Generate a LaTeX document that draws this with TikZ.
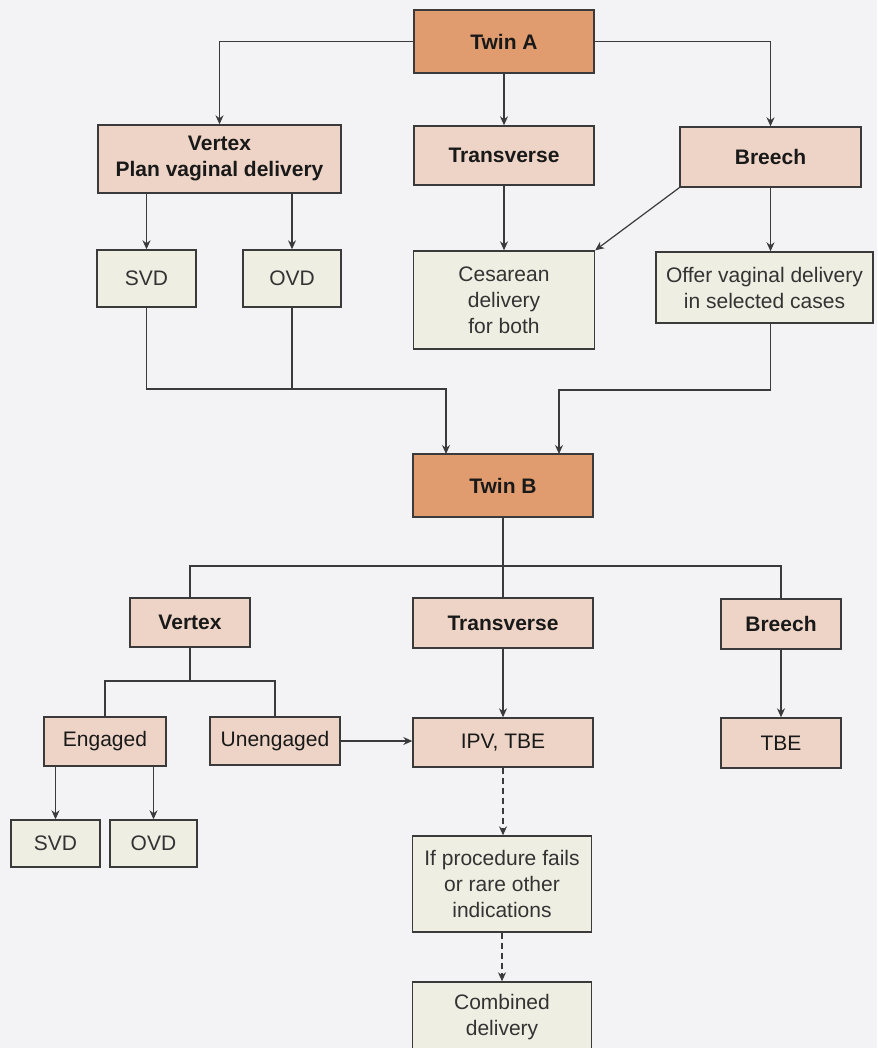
\documentclass[tikz,border=0pt]{standalone}
\usepackage{fontspec}
\setmainfont{Liberation Sans}
\usetikzlibrary{arrows.meta}

\definecolor{twinfill}{HTML}{E09C6E}
\definecolor{lief}{HTML}{EED4C6}
\definecolor{endfill}{HTML}{EEEEE2}
\definecolor{pagebg}{HTML}{F3F3F6}
\definecolor{linecol}{HTML}{3A3A3A}

\begin{document}
\begin{tikzpicture}[
    x=1pt, y=-1pt,
    every node/.style={font=\fontsize{21}{26}\selectfont, text=black!80, align=center, inner sep=0pt},
    box/.style 2 args={draw=linecol, line width=1.4pt, minimum width=#1pt, minimum height=#2pt},
    twin/.style={fill=twinfill, text=black!90, font=\fontsize{21}{26}\selectfont\bfseries},
    pres/.style={fill=lief, text=black!90, font=\fontsize{21}{26}\selectfont\bfseries},
    plan/.style={fill=endfill},
    conn/.style={draw=linecol, line width=1.2pt},
    arr/.style={conn, -{Stealth[length=9pt, width=8pt]}},
    dash6/.style={dash pattern=on 6pt off 4pt},
]
  \useasboundingbox (0,0) rectangle (877,1048);
  \clip (0,0) rectangle (877,1048);
  \fill[pagebg] (0,0) rectangle (877,1048);

  \node[box={180}{63}, twin] (twinA) at (504,41.5)  {Twin A};
  \node[box={243}{68}, pres] (vtxA)  at (219.5,159) {Vertex\\Plan vaginal delivery};
  \node[box={180}{59}, pres] (trvA)  at (504,155.5) {Transverse};
  \node[box={181}{60}, pres] (brA)   at (770.5,157) {Breech};
  \node[box={99}{57}, plan]  (svdA)  at (146.5,278.5) {SVD};
  \node[box={98}{57}, plan]  (ovdA)  at (292,278.5) {OVD};
  \node[box={181}{98}, plan] (cesA)  at (504,300) {Cesarean\\delivery\\for both};
  \node[box={217}{71}, plan] (offA)  at (764.5,287.5) {Offer vaginal delivery\\in selected cases};

  \node[box={180}{63}, twin] (twinB) at (503,485.5) {Twin B};
  \node[box={120}{49}, pres] (vtxB)  at (190,622.5) {Vertex};
  \node[box={180}{50}, pres] (trvB)  at (503,623)   {Transverse};
  \node[box={120}{50}, pres] (brB)   at (781,624)   {Breech};
  \node[box={122}{49}, pres] (engB)  at (105,741.5) {\mdseries Engaged};
  \node[box={130}{48}, pres] (uneB)  at (275,741)   {\mdseries Unengaged};
  \node[box={180}{49}, pres] (ipvB)  at (503,742.5) {\mdseries IPV, TBE};
  \node[box={120}{50}, pres] (tbeB)  at (781,743)   {\mdseries TBE};
  \node[box={89}{47}, plan]  (svdB)  at (55.5,843.5) {SVD};
  \node[box={87}{47}, plan]  (ovdB)  at (153.5,843.5) {OVD};
  \node[box={179}{96}, plan] (ifB)   at (502,884) {If procedure fails\\or rare other\\indications};
  \node[box={179}{70}, plan] (comB)  at (502,1017) {Combined\\delivery};

  \coordinate (jA)  at (446,389);
  \coordinate (inL) at (446,454);
  \coordinate (jB)  at (559,390);
  \coordinate (inR) at (559,454);
  \coordinate (busB) at (503,566);
  \coordinate (busV) at (190,681);

  \draw[arr] (twinA.west) -| (vtxA.north);
  \draw[arr] (twinA.east) -| (brA.north);
  \draw[arr] (twinA) -- (trvA);
  \draw[arr] (vtxA.south -| svdA.north) -- (svdA.north);
  \draw[arr] (vtxA.south -| ovdA.north) -- (ovdA.north);
  \draw[arr] (trvA) -- (cesA);
  \draw[arr] (brA.south west) -- (cesA.north east);
  \draw[arr] (brA.south) -- (brA.south |- offA.north);

  \draw[arr] (svdA.south) |- (jA) -- (inL);
  \draw[conn] (ovdA.south) -- (ovdA.south |- jA);
  \draw[arr] (brA.south |- offA.south) |- (jB) -- (inR);

  \draw[conn] (twinB.south) -- (trvB.north);
  \draw[conn] (vtxB.north) |- (busB) -| (brB.north);
  \draw[conn] (vtxB.south) -- (busV);
  \draw[conn] (engB.north) |- (busV) -| (uneB.north);
  \draw[arr] (uneB.east) -- (uneB.east -| ipvB.west);
  \draw[arr] (trvB) -- (ipvB);
  \draw[arr] (brB) -- (tbeB);
  \draw[arr] (engB.south -| svdB.north) -- (svdB.north);
  \draw[arr] (engB.south -| ovdB.north) -- (ovdB.north);
  \draw[arr, dash6] (ipvB.south) -- (ipvB.south |- ifB.north);
  \draw[arr, dash6] (ifB) -- (comB);
\end{tikzpicture}
\end{document}
